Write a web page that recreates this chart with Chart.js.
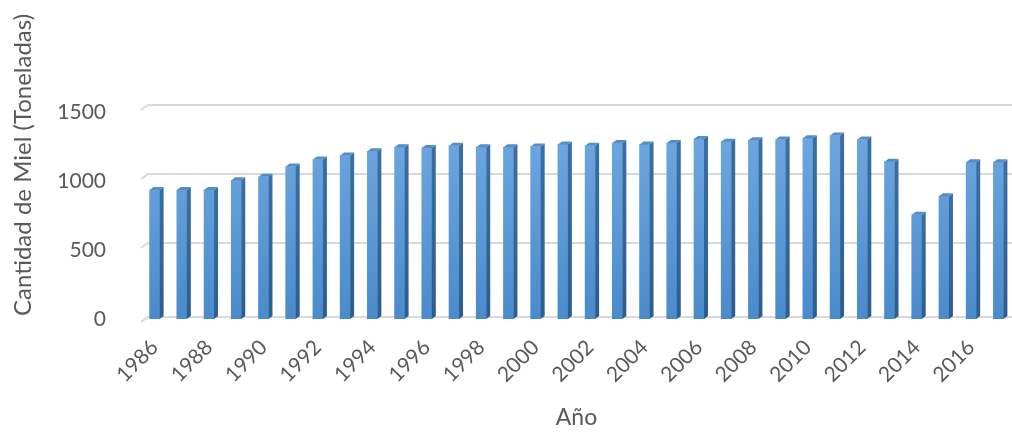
<!DOCTYPE html>
<html>
<head>
<meta charset="utf-8">
<script src="https://cdn.jsdelivr.net/npm/chart.js@4"></script>
<style>
  html, body { margin: 0; padding: 0; background: #fff; }
  #chart { display: block; }
</style>
</head>
<body>
<canvas id="chart" width="1012" height="433"></canvas>
<script>
const years = [
  "1986", "1987", "1988", "1989", "1990", "1991", "1992", "1993",
  "1994", "1995", "1996", "1997", "1998", "1999", "2000", "2001",
  "2002", "2003", "2004", "2005", "2006", "2007", "2008", "2009",
  "2010", "2011", "2012", "2013", "2014", "2015", "2016", "2017",
];
const honeyTons = [
  935, 935, 935, 1005, 1030, 1105, 1155, 1185,
  1215, 1245, 1240, 1255, 1245, 1245, 1250, 1265,
  1255, 1275, 1265, 1275, 1305, 1285, 1295, 1300,
  1310, 1330, 1300, 1140, 755, 890, 1135, 1135,
];
const yTicks = [0, 500, 1000, 1500];

const textColor = "#595959";
const gridColor = "#d9d9d9";
const fontFamily = "Lato, 'Open Sans', sans-serif";
const depthX = 4;
const depthY = 3;

// back wall grid lines with the little perspective step at the left edge;
// the zero line is the floor edge, so it sits at the column bases
const wallGrid = {
  id: "wallGrid",
  beforeDatasetsDraw(chart) {
    const { ctx, chartArea, scales } = chart;
    ctx.save();
    ctx.strokeStyle = gridColor;
    ctx.lineWidth = 2;
    yTicks.forEach((v) => {
      const p = scales.y.getPixelForValue(v);
      const back = v === 0 ? p - 2 : p - 7;
      ctx.beginPath();
      ctx.moveTo(chartArea.left, back + 5);
      ctx.lineTo(chartArea.left + 7, back);
      ctx.lineTo(chartArea.right, back);
      ctx.stroke();
    });
    ctx.restore();
  },
};

// side and top faces so the columns read as 3D blocks
const columnFaces = {
  id: "columnFaces",
  afterDatasetsDraw(chart) {
    const { ctx } = chart;
    const meta = chart.getDatasetMeta(0);
    ctx.save();
    meta.data.forEach((bar) => {
      const { x, y, base, width } = bar.getProps(["x", "y", "base", "width"], true);
      const l = x - width / 2;
      const r = x + width / 2;
      const side = ctx.createLinearGradient(0, y, 0, base);
      side.addColorStop(0, "#3a6fa3");
      side.addColorStop(1, "#2d5d8d");
      ctx.fillStyle = side;
      ctx.beginPath();
      ctx.moveTo(r, y);
      ctx.lineTo(r + depthX, y - depthY);
      ctx.lineTo(r + depthX, base - depthY);
      ctx.lineTo(r, base);
      ctx.closePath();
      ctx.fill();
      ctx.fillStyle = "#558dc6";
      ctx.beginPath();
      ctx.moveTo(l, y);
      ctx.lineTo(l + depthX, y - depthY);
      ctx.lineTo(r + depthX, y - depthY);
      ctx.lineTo(r, y);
      ctx.closePath();
      ctx.fill();
    });
    ctx.restore();
  },
};

// rotated y axis title, placed higher than the plot centre
const yTitle = {
  id: "yTitle",
  afterDraw(chart) {
    const { ctx } = chart;
    ctx.save();
    ctx.translate(23, 165);
    ctx.rotate(-Math.PI / 2);
    ctx.font = "24px " + fontFamily;
    ctx.fillStyle = textColor;
    ctx.textAlign = "center";
    ctx.textBaseline = "middle";
    ctx.fillText("Cantidad de Miel (Toneladas)", 0, 0);
    ctx.restore();
  },
};

function frontFill(context) {
  const area = context.chart.chartArea;
  if (!area) return "#5b9bd5";
  const g = context.chart.ctx.createLinearGradient(0, area.top, 0, area.bottom);
  g.addColorStop(0, "#72aae2");
  g.addColorStop(1, "#4a8bcc");
  return g;
}

new Chart(document.getElementById("chart"), {
  type: "bar",
  data: {
    labels: years,
    datasets: [
      {
        label: "Miel",
        data: honeyTons,
        backgroundColor: frontFill,
        borderWidth: 0,
        barThickness: 10,
      },
    ],
  },
  options: {
    responsive: false,
    devicePixelRatio: 1,
    animation: false,
    layout: { padding: { top: 112, left: 0, right: -6, bottom: 0 } },
    plugins: {
      legend: { display: false },
      tooltip: { enabled: false },
    },
    scales: {
      x: {
        grid: { display: false },
        border: { display: false },
        ticks: {
          autoSkip: false,
          minRotation: 45,
          maxRotation: 45,
          padding: 8,
          color: textColor,
          font: { family: fontFamily, size: 21 },
          callback: (value, index) => (index % 2 === 0 ? years[index] : ""),
        },
        title: {
          display: true,
          text: "Año",
          color: textColor,
          font: { family: fontFamily, size: 23 },
          padding: { top: 0, bottom: 2 },
        },
        afterFit: (scale) => {
          scale.height = 114;
          scale.paddingLeft = 0;
          scale.paddingRight = 0;
        },
      },
      y: {
        min: 0,
        max: 1500,
        afterBuildTicks: (scale) => {
          scale.ticks = yTicks.map((v) => ({ value: v }));
        },
        grid: { display: false },
        border: { display: false },
        ticks: {
          padding: 27,
          color: textColor,
          font: { family: fontFamily, size: 21 },
          callback: (value) => String(value),
        },
        afterFit: (scale) => {
          scale.width = 141;
          scale.paddingTop = 0;
          scale.paddingBottom = 0;
        },
      },
    },
  },
  plugins: [wallGrid, columnFaces, yTitle],
});
</script>
</body>
</html>
